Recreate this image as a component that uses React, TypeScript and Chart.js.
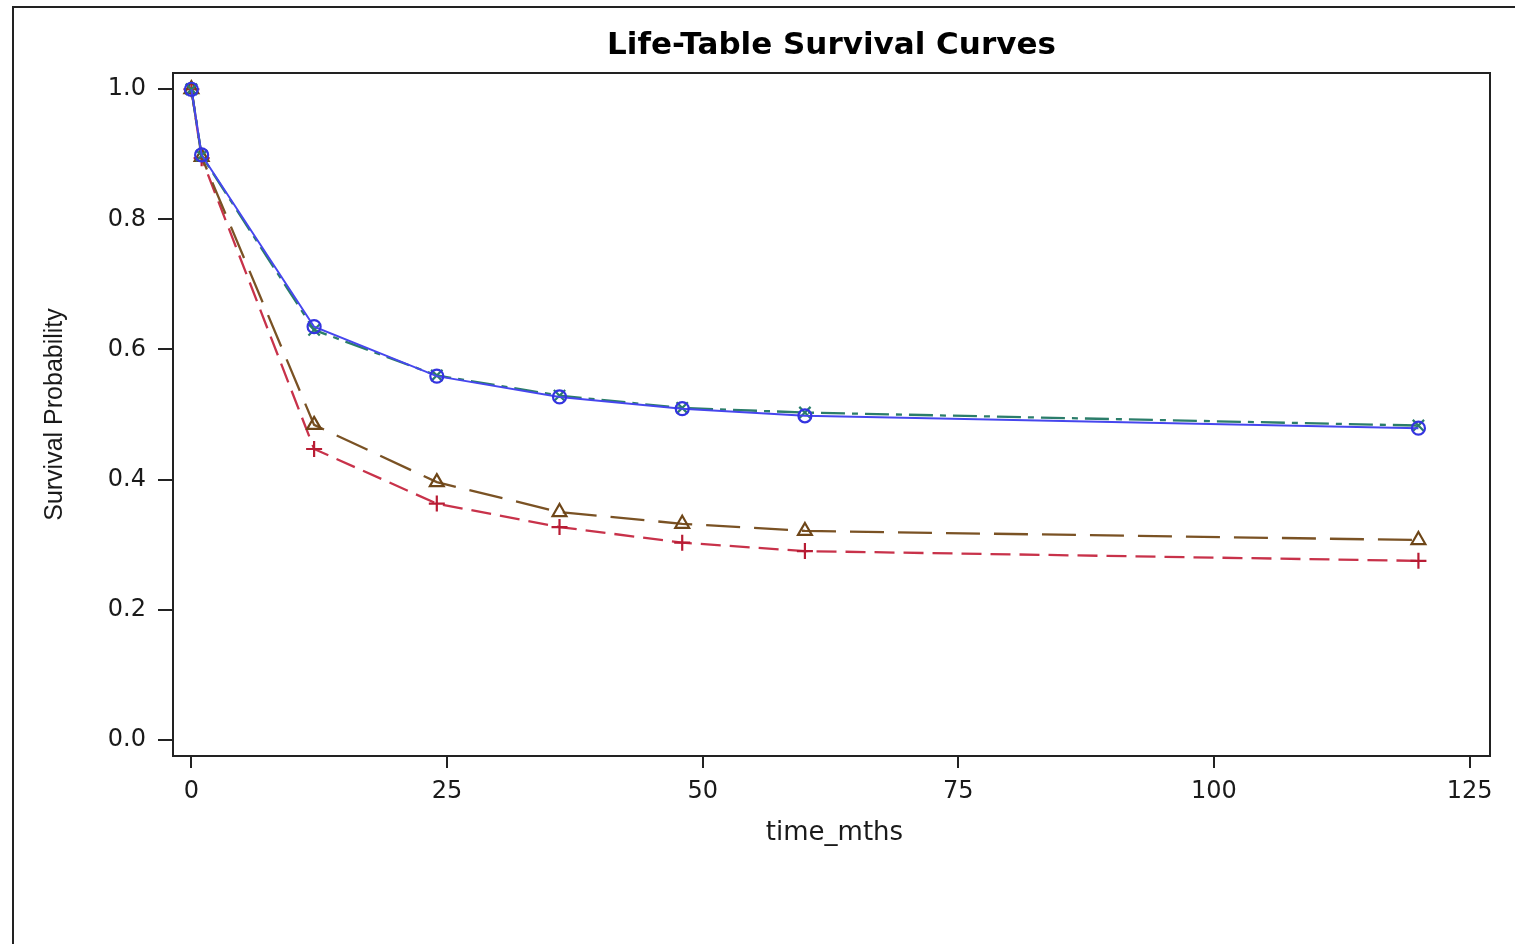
import React, { useEffect, useRef } from 'react';
import { Chart, registerables } from 'chart.js';

Chart.register(...registerables);

const timePoints = [0, 1, 12, 24, 36, 48, 60, 120];
const seriesBlue = [1.0, 0.899, 0.635, 0.559, 0.527, 0.509, 0.498, 0.479];
const seriesGreen = [1.0, 0.898, 0.63, 0.56, 0.529, 0.51, 0.503, 0.483];
const seriesBrown = [1.0, 0.896, 0.484, 0.396, 0.35, 0.332, 0.321, 0.307];
const seriesRed = [1.0, 0.894, 0.447, 0.363, 0.327, 0.303, 0.29, 0.275];
const xTickValues = [0, 25, 50, 75, 100, 125];
const yTickValues = [0, 0.2, 0.4, 0.6, 0.8, 1.0];

const chartTitle = 'Life-Table Survival Curves';
const xTitle = 'time_mths';
const yTitle = 'Survival Probability';

const toPoints = (ys: number[]) => timePoints.map((x, i) => ({ x, y: ys[i] }));

const framePlugin = {
  id: 'framePlugin',
  afterDraw(chart: any) {
    const { ctx, chartArea } = chart;
    const { left, top, right, bottom } = chartArea;
    ctx.save();
    ctx.strokeStyle = '#222';
    ctx.lineWidth = 2;
    ctx.beginPath();
    ctx.moveTo(13, 950);
    ctx.lineTo(13, 7);
    ctx.lineTo(1520, 7);
    ctx.stroke();
    ctx.strokeRect(left, top, right - left, bottom - top);
    ctx.fillStyle = '#1a1a1a';
    ctx.textAlign = 'center';
    ctx.textBaseline = 'middle';
    ctx.font = '26px "DejaVu Sans"';
    ctx.fillText(xTitle, (left + right) / 2 + 3, bottom + 77);
    ctx.translate(55, (top + bottom) / 2);
    ctx.rotate(-Math.PI / 2);
    ctx.font = '25px "Liberation Sans"';
    ctx.fillText(yTitle, 0, 0);
    ctx.restore();
  },
};

export default function App() {
  const canvasRef = useRef<HTMLCanvasElement | null>(null);

  useEffect(() => {
    if (!canvasRef.current) return;
    const chart = new Chart(canvasRef.current, {
      type: 'line',
      data: {
        datasets: [
          {
            label: 'blue',
            data: toPoints(seriesBlue),
            borderColor: '#4646ee',
            borderWidth: 2,
            pointStyle: 'circle',
            pointRadius: 6.5,
            pointBorderWidth: 2.2,
            pointBorderColor: '#3434e0',
            pointBackgroundColor: 'rgba(0,0,0,0)',
            tension: 0,
            fill: false,
          },
          {
            label: 'green',
            data: toPoints(seriesGreen),
            borderColor: '#2b7d6a',
            borderWidth: 2.3,
            borderDash: [24, 7, 6, 7],
            pointStyle: 'crossRot',
            pointRadius: 8,
            pointBorderWidth: 2.2,
            pointBorderColor: '#2b7d6a',
            pointBackgroundColor: 'rgba(0,0,0,0)',
            tension: 0,
            fill: false,
          },
          {
            label: 'brown',
            data: toPoints(seriesBrown),
            borderColor: '#7a5224',
            borderWidth: 2.3,
            borderDash: [34, 14],
            pointStyle: 'triangle',
            pointRadius: 8,
            pointBorderWidth: 2.2,
            pointBorderColor: '#6e4618',
            pointBackgroundColor: 'rgba(0,0,0,0)',
            tension: 0,
            fill: false,
          },
          {
            label: 'red',
            data: toPoints(seriesRed),
            borderColor: '#c8324a',
            borderWidth: 2.3,
            borderDash: [20, 9],
            pointStyle: 'cross',
            pointRadius: 8,
            pointBorderWidth: 2.2,
            pointBorderColor: '#b81c34',
            pointBackgroundColor: 'rgba(0,0,0,0)',
            tension: 0,
            fill: false,
          },
        ],
      },
      options: {
        responsive: false,
        animation: false,
        devicePixelRatio: 1,
        layout: { padding: { left: 0, right: 25, top: 0, bottom: 0 } },
        plugins: {
          legend: { display: false },
          tooltip: { enabled: false },
          title: {
            display: true,
            text: chartTitle,
            fullSize: false,
            color: '#000',
            font: { family: '"DejaVu Sans"', size: 31, weight: 'bold', lineHeight: 1 },
            padding: { top: 30, bottom: 12 },
          },
        },
        scales: {
          x: {
            type: 'linear',
            min: -1.8,
            max: 127,
            afterFit: (scale: any) => {
              scale.height = 188;
            },
            afterBuildTicks: (scale: any) => {
              scale.ticks = xTickValues.map((v) => ({ value: v }));
            },
            grid: {
              drawOnChartArea: false,
              drawTicks: true,
              tickLength: 12,
              color: '#222',
              lineWidth: 2,
            },
            border: { display: true, color: '#222', width: 2 },
            ticks: {
              color: '#1a1a1a',
              padding: 9,
              maxRotation: 0,
              autoSkip: false,
              font: { family: '"DejaVu Sans"', size: 24 },
              callback: (v: any) => String(v),
            },
          },
          y: {
            type: 'linear',
            min: -0.025,
            max: 1.025,
            afterFit: (scale: any) => {
              scale.width = 173;
            },
            afterBuildTicks: (scale: any) => {
              scale.ticks = yTickValues.map((v) => ({ value: v }));
            },
            grid: {
              drawOnChartArea: false,
              drawTicks: true,
              tickLength: 15,
              color: '#222',
              lineWidth: 2,
            },
            border: { display: true, color: '#222', width: 2 },
            ticks: {
              color: '#1a1a1a',
              padding: 12,
              autoSkip: false,
              font: { family: '"DejaVu Sans"', size: 24 },
              callback: (v: any) => Number(v).toFixed(1),
            },
          },
        },
      },
      plugins: [framePlugin],
    });
    return () => chart.destroy();
  }, []);

  return (
    <div style={{ position: 'fixed', left: 0, top: 0, width: 1515, height: 944, background: '#fff' }}>
      <canvas ref={canvasRef} width={1515} height={944} style={{ width: 1515, height: 944, display: 'block' }} />
    </div>
  );
}
